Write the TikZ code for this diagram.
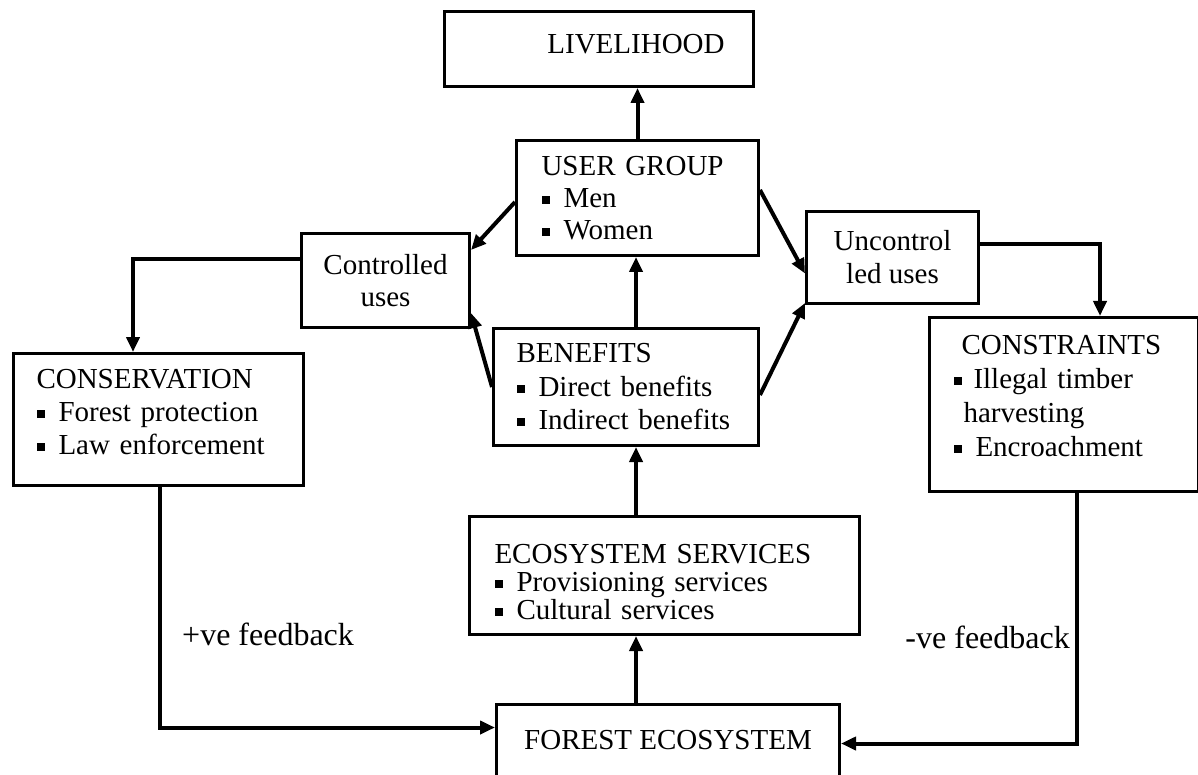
\documentclass[tikz,border=0pt]{standalone}
\usepackage{fontspec}
\setmainfont{Liberation Serif}
\usetikzlibrary{arrows.meta,calc}
\newcommand\bul{\rule[3.5pt]{8pt}{8pt}\hspace{14pt}}
\begin{document}
\begin{tikzpicture}[x=1pt,y=-1pt,
  box/.style={draw, line width=3pt, anchor=north west, align=left, inner ysep=0pt},
  cbox/.style={draw, line width=3pt, anchor=north west, align=center, inner sep=0pt},
  conn/.style={line width=4pt, -{Triangle[length=15pt,width=13pt]}},
  lbl/.style={inner sep=0pt, font=\fontsize{32}{36}\selectfont},
  font=\fontsize{29}{34}\selectfont]
\useasboundingbox (0,0) rectangle (1198,775);

\node[cbox, minimum width=309pt, minimum height=75pt] (live) at (443,10)
  {\hspace*{74pt}LIVELIHOOD\rule[-10pt]{0pt}{0pt}};
\node[box, minimum width=242pt, minimum height=115pt, inner xsep=25pt, text width=192pt,
  font=\fontsize{29}{32}\selectfont] (ug) at (515,139)
  {USER GROUP\\\bul Men\\\bul Women};
\node[cbox, minimum width=168pt, minimum height=94pt, font=\fontsize{29}{32}\selectfont] (ctrl) at (300,232)
  {Controlled\\uses};
\node[cbox, minimum width=172pt, minimum height=92pt, font=\fontsize{29}{33}\selectfont] (unc) at (805,210)
  {Uncontrol\\led uses};
\node[box, minimum width=290pt, minimum height=132pt, inner xsep=23pt, text width=244pt,
  font=\fontsize{29}{33}\selectfont] (cons) at (12,352)
  {CONSERVATION\\\bul Forest protection\\\bul Law enforcement\rule[-16pt]{0pt}{0pt}};
\node[box, minimum width=265pt, minimum height=117pt, inner xsep=23pt, text width=219pt,
  font=\fontsize{29}{33.5}\selectfont] (ben) at (492,327)
  {BENEFITS\\\bul Direct benefits\\\bul Indirect benefits};
\node[box, minimum width=269pt, minimum height=174pt, inner xsep=24pt, text width=221pt,
  font=\fontsize{29}{34}\selectfont] (constr) at (928,316)
  {\hspace*{8pt}CONSTRAINTS\\\rule[3.5pt]{8pt}{8pt}\hspace{12pt}Illegal timber\\\hspace*{10pt}harvesting\\\rule[3.5pt]{8pt}{8pt}\hspace{14pt}Encroachment\rule[-18pt]{0pt}{0pt}};
\node[box, minimum width=390pt, minimum height=118pt, inner xsep=25pt, text width=340pt,
  font=\fontsize{29}{28}\selectfont] (eco) at (468,515)
  {\rule{0pt}{32pt}ECOSYSTEM SERVICES\\\bul Provisioning services\\\bul Cultural services};
\node[cbox, minimum width=343pt, minimum height=72pt] (forest) at (495,703)
  {FOREST ECOSYSTEM};

\node[lbl, anchor=base west] (lp) at (182,645) {+ve feedback};
\node[lbl, anchor=base east] (ln) at (1070,648) {-ve feedback};

\coordinate (sp) at (636,0);

\draw[conn] (ug.north) -- (ug.north |- live.south);
\draw[conn] ($(ug.west)+(0,4)$) -- ($(ctrl.north east)+(0,18)$);
\draw[conn] (ben.west) -- ($(ctrl.south east)+(0,-16)$);
\draw[conn] ($(ug.east)+(0,-8)$) -- ($(unc.west)+(0,16)$);
\draw[conn] ($(ben.east)+(0,8)$) -- ($(unc.south west)+(0,-2)$);
\draw[conn] ($(ctrl.west)+(0,-21)$) -| ($(cons.north west)+(121,0)$);
\draw[conn] ($(unc.east)+(0,-13)$) -| ($(constr.north west)+(172,0)$);
\draw[conn] ($(cons.south west)+(148,0)$) |- ($(forest.west)+(0,-13)$);
\draw[conn] ($(constr.south west)+(149,0)$) |- ($(forest.east)+(0,3)$);
\draw[conn] (forest.north -| sp) -- (eco.south -| sp);
\draw[conn] (eco.north -| sp) -- (ben.south -| sp);
\draw[conn] (ben.north -| sp) -- (ug.south -| sp);
\end{tikzpicture}
\end{document}
